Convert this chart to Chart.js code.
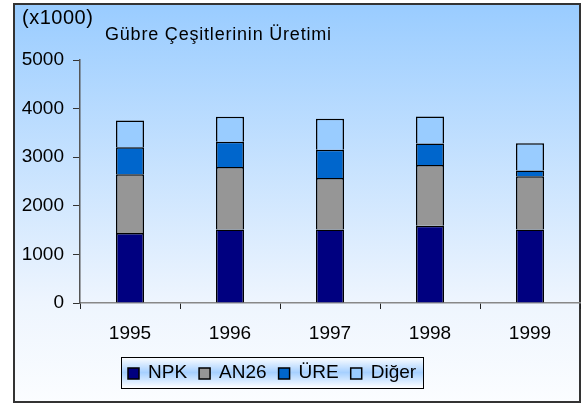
<!DOCTYPE html>
<html>
<head>
<meta charset="utf-8">
<script src="https://cdn.jsdelivr.net/npm/chart.js@4/dist/chart.umd.min.js"></script>
<style>
  body { margin: 0; background: #fff; }
  canvas { display: block; }
</style>
</head>
<body>
<canvas id="chart" width="582" height="405"></canvas>
<script>
// data (thousands of tonnes)
const years = ['1995', '1996', '1997', '1998', '1999'];
const npk = [1440, 1510, 1510, 1590, 1510];
const an26 = [1210, 1290, 1060, 1250, 1100];
const ure = [555, 520, 585, 440, 115];
const diger = [550, 510, 635, 555, 560];

const seriesNames = ['NPK', 'AN26', 'ÜRE', 'Diğer'];
const seriesColors = ['#000080', '#969696', '#0066cc', '#99ccff'];
const yTicks = [0, 1000, 2000, 3000, 4000, 5000];

const FONT = 'Liberation Sans, Arial, sans-serif';

const frame = {
    id: 'frame',
    beforeDraw(chart) {
        const c = chart.ctx;
        c.save();
        const g = c.createLinearGradient(0, 3, 0, 402);
        g.addColorStop(0, '#99ccff');
        g.addColorStop(0.75, '#eef5fe');
        g.addColorStop(1, '#fbfdff');
        c.fillStyle = g;
        c.fillRect(14, 4, 566, 398);
        c.strokeStyle = '#333';
        c.lineWidth = 2;
        c.strokeRect(14, 4, 566, 398);
        c.restore();
    },
    afterDraw(chart) {
        const c = chart.ctx;
        c.save();
        c.fillStyle = '#000';
        c.textBaseline = 'middle';
        c.font = '20px ' + FONT;
        c.letterSpacing = '0.5px';
        c.fillText('(x1000)', 22, 18);
        c.font = '18px ' + FONT;
        c.letterSpacing = '0.8px';
        c.fillText('Gübre Çeşitlerinin Üretimi', 105, 35);
        c.letterSpacing = '0px';

        // legend box
        const lx = 121, ly = 357, lw = 302, lh = 31;
        const g = c.createLinearGradient(0, ly, 0, ly + lh);
        g.addColorStop(0, '#ffffff');
        g.addColorStop(0.5, '#a6d0ff');
        g.addColorStop(1, '#ffffff');
        c.fillStyle = g;
        c.fillRect(lx, ly, lw, lh);
        c.strokeStyle = '#000';
        c.lineWidth = 1;
        c.strokeRect(lx + 0.5, ly + 0.5, lw, lh);

        c.font = '19px ' + FONT;
        let x = 128;
        const cy = 373;
        chart.data.datasets.forEach(ds => {
            c.fillStyle = ds.backgroundColor;
            c.fillRect(x, cy - 5, 11, 11);
            c.strokeStyle = '#000';
            c.lineWidth = 1.5;
            c.strokeRect(x, cy - 5, 11, 11);
            c.fillStyle = '#000';
            c.fillText(ds.label, x + 20, cy);
            x += 20 + c.measureText(ds.label).width + 12;
        });
        c.restore();
    }
};

const values = [npk, an26, ure, diger];

new Chart(document.getElementById('chart'), {
    type: 'bar',
    data: {
        labels: years,
        datasets: seriesNames.map((name, i) => ({
            label: name,
            data: values[i],
            backgroundColor: seriesColors[i],
            borderColor: '#000',
            borderWidth: 1.5,
            categoryPercentage: 1,
            barPercentage: 0.28
        }))
    },
    options: {
        responsive: false,
        animation: false,
        layout: { padding: { top: 60, right: 2, left: 0, bottom: 0 } },
        plugins: { legend: { display: false }, tooltip: { enabled: false } },
        scales: {
            x: {
                stacked: true,
                afterFit(s) { s.height = 102; },
                grid: { offset: true, drawOnChartArea: false, tickLength: 6, color: '#222' },
                border: { color: '#888', width: 1.5 },
                ticks: { color: '#000', font: { family: FONT, size: 19 }, padding: 13 }
            },
            y: {
                stacked: true,
                min: 0,
                max: 5000,
                afterFit(s) { s.width = 80; },
                afterBuildTicks(s) { s.ticks = yTicks.map(v => ({ value: v })); },
                grid: { drawOnChartArea: false, tickLength: 7, color: '#333' },
                border: { color: '#555', width: 1.5 },
                ticks: {
                    color: '#000',
                    font: { family: FONT, size: 19 },
                    padding: 9,
                    callback: v => String(v)
                }
            }
        }
    },
    plugins: [frame]
});
</script>
</body>
</html>
